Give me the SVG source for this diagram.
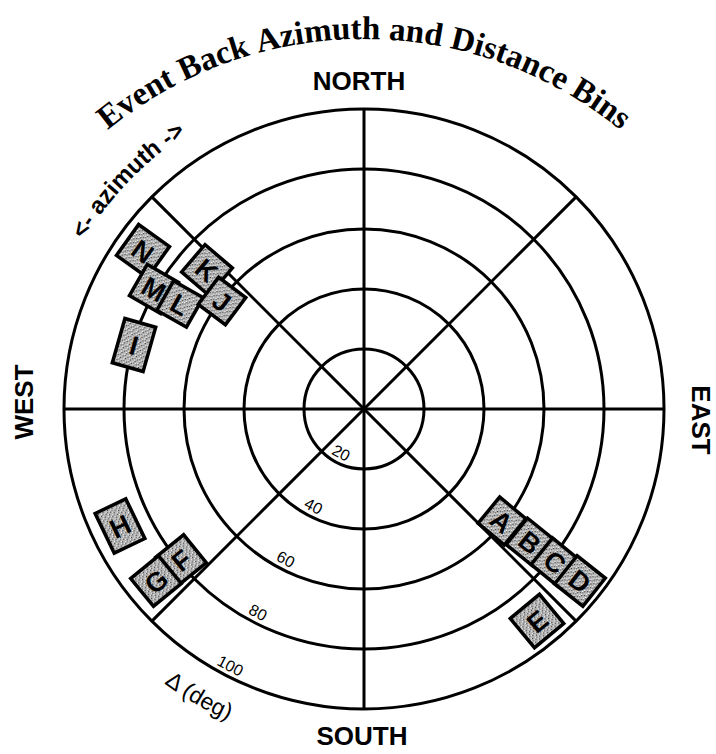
<svg xmlns="http://www.w3.org/2000/svg" width="716" height="754" viewBox="0 0 716 754">
<defs>
<pattern id="stip" width="5" height="5" patternUnits="userSpaceOnUse">
<rect width="5" height="5" fill="#b2b2b2"/>
<rect x="0" y="0" width="1" height="1" fill="#333"/>
<rect x="3" y="1" width="1" height="1" fill="#fff"/>
<rect x="2" y="3" width="1" height="1" fill="#444"/>
<rect x="4" y="4" width="1" height="1" fill="#fff"/>
<rect x="1" y="2" width="1" height="1" fill="#eee"/>
<rect x="4" y="2" width="1" height="1" fill="#666"/>
</pattern>
<path id="titleArc" d="M53,184 A406,406 0 0 1 675,184"/>
<path id="azArc" d="M42,352 A328,328 0 0 1 296.8,88.2"/>
<path id="degArc" d="M70.6,579 A340,340 0 0 0 365,749"/>
</defs>
<style>
.grid{fill:none;stroke:#000;stroke-width:3}
.box{fill:url(#stip);stroke:#000;stroke-width:3.5}
.lbl{font-family:"Liberation Sans",Arial,sans-serif;font-weight:bold;font-size:27px;text-anchor:middle;fill:#000}
.dir{font-family:"Liberation Sans",Arial,sans-serif;font-weight:bold;font-size:26px;text-anchor:middle;fill:#000}
.title{font-family:"Liberation Serif","Times New Roman",serif;font-weight:bold;font-size:33px;fill:#000}
.az{font-family:"Liberation Sans",Arial,sans-serif;font-weight:bold;font-size:24px;fill:#000}
.num{font-family:"Liberation Sans",Arial,sans-serif;font-size:16px;text-anchor:middle;fill:#000}
.deg{font-family:"Liberation Sans",Arial,sans-serif;font-size:23px;fill:#000}
</style>
<rect width="716" height="754" fill="#fff"/>

<g id="connectors">
<circle class="grid" cx="364" cy="409" r="60"/>
<circle class="grid" cx="364" cy="409" r="120"/>
<circle class="grid" cx="364" cy="409" r="180"/>
<circle class="grid" cx="364" cy="409" r="240"/>
<circle class="grid" cx="364" cy="409" r="300"/>
<line class="grid" x1="364" y1="109" x2="364" y2="709"/>
<line class="grid" x1="64" y1="409" x2="664" y2="409"/>
<line class="grid" x1="151.9" y1="196.9" x2="576.1" y2="621.1"/>
<line class="grid" x1="151.9" y1="621.1" x2="576.1" y2="196.9"/>
</g>

<g id="title">
<text class="title"><textPath href="#titleArc" startOffset="77">Event</textPath></text>
<text class="title"><textPath href="#titleArc" startOffset="167.7">Back</textPath></text>
<text class="title"><textPath href="#titleArc" startOffset="247.5">Azimuth</textPath></text>
<text class="title"><textPath href="#titleArc" startOffset="378.6">and</textPath></text>
<text class="title"><textPath href="#titleArc" startOffset="440">Distance</textPath></text>
<text class="title"><textPath href="#titleArc" startOffset="569.3">Bins</textPath></text>
</g>

<g id="labels">
<text class="az"><textPath href="#azArc" startOffset="50%" text-anchor="middle">&lt;- azimuth -&gt;</textPath></text>
<text class="deg"><textPath href="#degArc" startOffset="50%" text-anchor="middle">Δ (deg)</textPath></text>
<text class="dir" x="359" y="90">NORTH</text>
<text class="dir" x="362" y="745">SOUTH</text>
<text class="dir" transform="translate(33,402) rotate(-90)">WEST</text>
<text class="dir" transform="translate(692,420) rotate(90)">EAST</text>
<text class="num" transform="translate(338.6,457.8) rotate(27.5)">20</text>
<text class="num" transform="translate(310.9,511) rotate(27.5)">40</text>
<text class="num" transform="translate(283.2,564.2) rotate(27.5)">60</text>
<text class="num" transform="translate(255.5,617.4) rotate(27.5)">80</text>
<text class="num" transform="translate(227.8,670.7) rotate(27.5)">100</text>
</g>

<g id="node-N" transform="translate(143,251) rotate(35.6)"><rect class="box" x="-19" y="-19" width="38" height="38"/><text class="lbl" y="10">N</text></g>
<g id="node-K" transform="translate(207,270) rotate(40.6)"><rect class="box" x="-18" y="-18" width="36" height="36"/><text class="lbl" y="10">K</text></g>
<g id="node-M" transform="translate(154,289) rotate(29.7)"><rect class="box" x="-18" y="-18" width="36" height="36"/><text class="lbl" y="10">M</text></g>
<g id="node-L" transform="translate(180,304) rotate(29.5)"><rect class="box" x="-17" y="-17" width="34" height="34"/><text class="lbl" y="10">L</text></g>
<g id="node-J" transform="translate(222,301) rotate(36.9)"><rect class="box" x="-17" y="-17" width="34" height="34"/><text class="lbl" y="10">J</text></g>
<g id="node-I" transform="translate(134,345) rotate(15.9)"><rect class="box" x="-16" y="-23" width="32" height="46"/><text class="lbl" y="10">I</text></g>
<g id="node-H" transform="translate(120,526) rotate(-25.7)"><rect class="box" x="-17" y="-22" width="34" height="44"/><text class="lbl" y="10">H</text></g>
<g id="node-F" transform="translate(181,560) rotate(-39)"><rect class="box" x="-18" y="-18" width="36" height="36"/><text class="lbl" y="10">F</text></g>
<g id="node-G" transform="translate(156,581) rotate(-39.4)"><rect class="box" x="-18" y="-18" width="36" height="36"/><text class="lbl" y="10">G</text></g>
<g id="node-A" transform="translate(502,521) rotate(39.5)"><rect class="box" x="-17" y="-17" width="34" height="34"/><text class="lbl" y="10">A</text></g>
<g id="node-B" transform="translate(530,542) rotate(38.9)"><rect class="box" x="-17" y="-17" width="34" height="34"/><text class="lbl" y="10">B</text></g>
<g id="node-C" transform="translate(555,562) rotate(39.1)"><rect class="box" x="-17" y="-17" width="34" height="34"/><text class="lbl" y="10">C</text></g>
<g id="node-D" transform="translate(580,581) rotate(38.5)"><rect class="box" x="-18" y="-18" width="36" height="36"/><text class="lbl" y="10">D</text></g>
<g id="node-E" transform="translate(537,621) rotate(-39.7)"><rect class="box" x="-19" y="-19" width="38" height="38"/><text class="lbl" y="10">E</text></g>
</svg>
